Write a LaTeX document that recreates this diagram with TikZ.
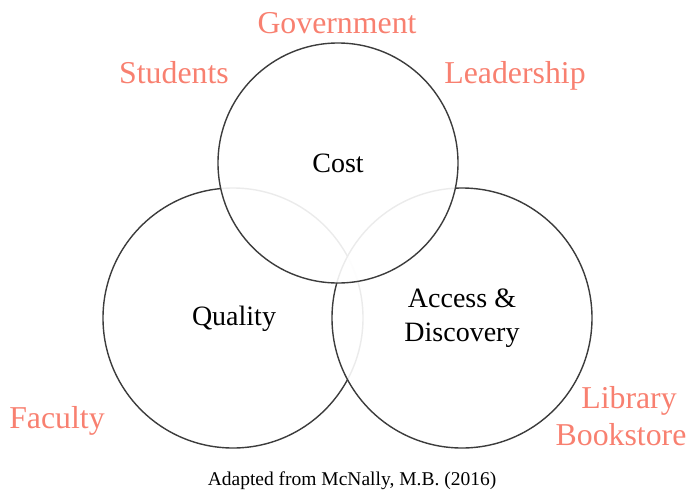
\documentclass[tikz,border=0pt]{standalone}
\usepackage{fontspec}
\setmainfont{Liberation Serif}
\definecolor{stakeholder}{RGB}{248,128,112}
\definecolor{ring}{RGB}{60,60,60}
\tikzset{
  ring/.style={draw=ring, line width=1.4pt, fill=white, fill opacity=0.9, draw opacity=1},
  topic/.style={font=\fontsize{28}{33}\selectfont, text=black, anchor=base, inner sep=0pt, align=center},
  holder/.style={font=\fontsize{31.8}{37}\selectfont, text=stakeholder, anchor=base, inner sep=0pt},
  credit/.style={font=\fontsize{19.5}{23}\selectfont, text=black, anchor=base, inner sep=0pt}
}
\begin{document}
\begin{tikzpicture}[x=1pt, y=-1pt]
  \useasboundingbox (0,0) rectangle (688,496);
  % three overlapping circles; later ones veil the arcs beneath them
  \coordinate (cq) at (233,318);
  \coordinate (ca) at (462,318);
  \coordinate (cc) at (338,163);
  \draw[ring, fill opacity=0] (cq) circle[radius=130];
  \draw[ring] (ca) circle[radius=130];
  \draw[ring] (cc) circle[radius=120];
  % circle labels
  \node[topic] (cost) at (338,172) {Cost};
  \node[topic] (quality) at (234,325) {Quality};
  \node[topic] (access) at (462,307) {Access \&};
  \node[topic] (discovery) at (462,341) {Discovery};
  % stakeholders
  \node[holder] (gov) at (337,33) {Government};
  \node[holder] (stu) at (174,83) {Students};
  \node[holder] (lead) at (515,83) {Leadership};
  \node[holder] (fac) at (57,428) {Faculty};
  \node[holder] (lib) at (629,408) {Library};
  \node[holder] (book) at (621,445) {Bookstore};
  % source
  \node[credit] (src) at (352,485) {Adapted from McNally, M.B. (2016)};
\end{tikzpicture}
\end{document}
